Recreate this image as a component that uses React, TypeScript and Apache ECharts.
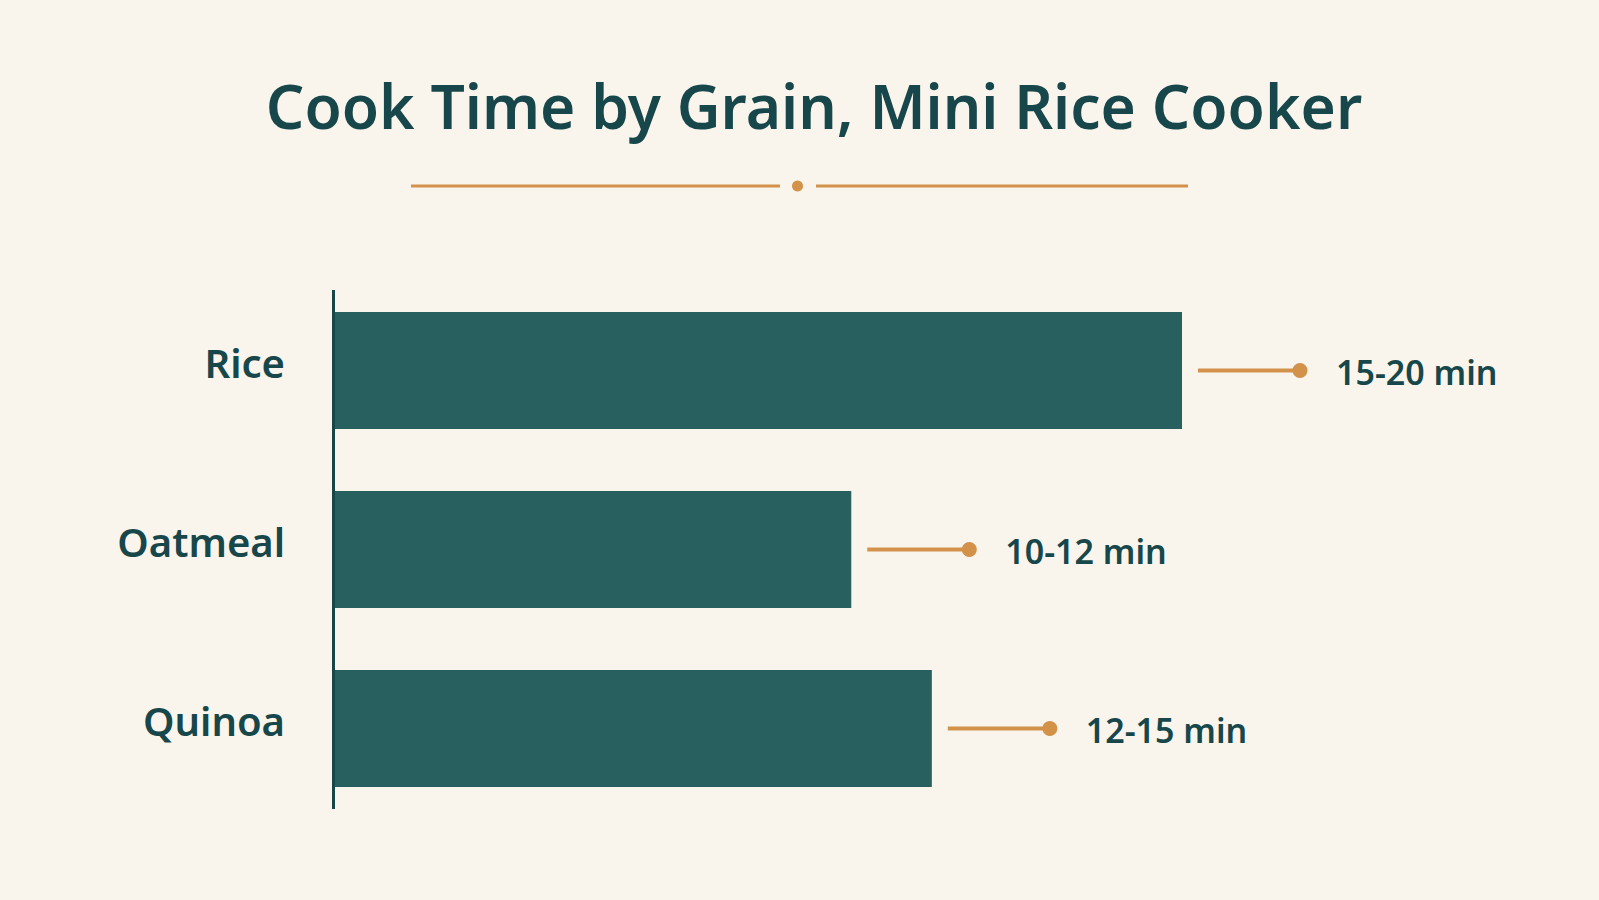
import React, { useEffect, useRef } from "react";
import * as echarts from "echarts";

const categories = ["Rice", "Oatmeal", "Quinoa"];
const barValues = [20, 12.2, 14.1];
const rangeLabels = ["15-20 min", "10-12 min", "12-15 min"];
const axisMin = 0;
const axisMax = 25;
const titleText = "Cook Time by Grain, Mini Rice Cooker";

const BG = "#FAF5EC";
const BAR = "#28605F";
const INK = "#17474A";
const GOLD = "#D3924A";
const FONT = "'Noto Sans', 'DejaVu Sans', sans-serif";

export default function App() {
  const ref = useRef<HTMLDivElement>(null);

  useEffect(() => {
    if (!ref.current) return;
    const chart = echarts.init(ref.current, null, { renderer: "svg" });

    const GRID_LEFT = 334;
    const GRID_TOP = 281;
    const BAND = 179;
    const GRID_W = 1060;
    const BAR_W = 117;
    const gridH = BAND * categories.length;
    const axisTop = GRID_TOP + BAND / 2 - BAR_W / 2 - 22;
    const axisBottom = GRID_TOP + gridH - BAND / 2 + BAR_W / 2 + 22;

    const LEAD_GAP = 16;
    const LEAD_LEN = 102;
    const TEXT_GAP = 36;

    chart.setOption({
      animation: false,
      backgroundColor: BG,
      grid: {
        left: GRID_LEFT,
        top: GRID_TOP,
        width: GRID_W,
        height: gridH,
        containLabel: false,
      },
      xAxis: {
        type: "value",
        min: axisMin,
        max: axisMax,
        show: false,
      },
      yAxis: {
        type: "category",
        data: categories,
        inverse: true,
        axisLine: { show: false },
        axisTick: { show: false },
        splitLine: { show: false },
        axisLabel: {
          color: INK,
          fontFamily: FONT,
          fontSize: 40,
          fontWeight: 600,
          margin: 49,
          verticalAlign: "bottom",
          lineHeight: 16,
        },
      },
      graphic: [
        {
          type: "text",
          x: 814,
          y: 105,
          style: {
            text: titleText,
            fill: INK,
            font: `600 60.5px ${FONT}`,
            textAlign: "center",
            textVerticalAlign: "middle",
          },
        },
        {
          type: "line",
          shape: { x1: 411, y1: 186, x2: 780, y2: 186 },
          style: { stroke: GOLD, lineWidth: 3 },
        },
        {
          type: "circle",
          shape: { cx: 797.5, cy: 186, r: 5.5 },
          style: { fill: GOLD },
        },
        {
          type: "line",
          shape: { x1: 816, y1: 186, x2: 1188, y2: 186 },
          style: { stroke: GOLD, lineWidth: 3 },
        },
        {
          type: "line",
          shape: { x1: GRID_LEFT - 0.5, y1: axisTop, x2: GRID_LEFT - 0.5, y2: axisBottom },
          style: { stroke: INK, lineWidth: 3 },
          z: 10,
        },
      ],
      series: [
        {
          type: "bar",
          data: barValues,
          barWidth: BAR_W,
          itemStyle: { color: BAR },
          silent: true,
        },
        {
          type: "custom",
          data: barValues.map((v, i) => [v, i]),
          encode: { x: 0, y: 1 },
          silent: true,
          renderItem: (params: any, api: any) => {
            const p = api.coord([api.value(0), api.value(1)]);
            const x0 = p[0] + LEAD_GAP;
            const x1 = x0 + LEAD_LEN;
            const y = p[1];
            return {
              type: "group",
              children: [
                {
                  type: "line",
                  shape: { x1: x0, y1: y, x2: x1, y2: y },
                  style: { stroke: GOLD, lineWidth: 4 },
                },
                {
                  type: "circle",
                  shape: { cx: x1, cy: y, r: 7.5 },
                  style: { fill: GOLD },
                },
                {
                  type: "text",
                  x: x1 + TEXT_GAP,
                  y: y + 1,
                  style: {
                    text: rangeLabels[params.dataIndex],
                    fill: INK,
                    font: `600 34px ${FONT}`,
                    textAlign: "left",
                    textVerticalAlign: "middle",
                  },
                },
              ],
            };
          },
        },
      ],
    });

    return () => chart.dispose();
  }, []);

  return (
    <div
      ref={ref}
      style={{ position: "fixed", left: 0, top: 0, width: 1599, height: 900 }}
    />
  );
}
